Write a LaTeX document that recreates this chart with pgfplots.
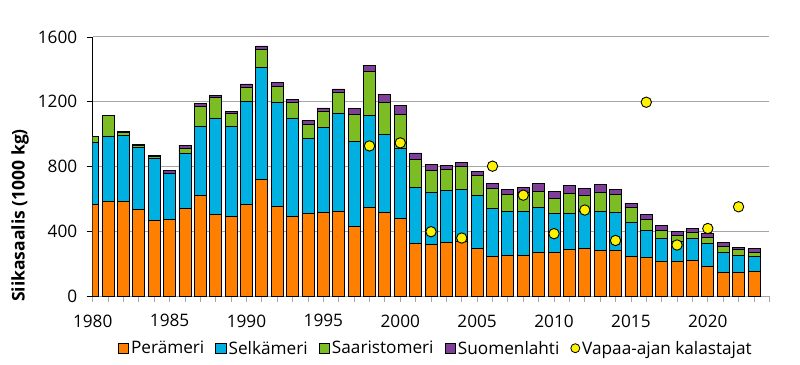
\documentclass[border=0pt]{standalone}
\usepackage{fontspec}
\setmainfont{Open Sans}
\usepackage{pgfplots}
\usepackage{pgfplotstable}
\pgfplotsset{compat=1.18}
\definecolor{cPer}{HTML}{FF8000}
\definecolor{cSel}{HTML}{00B0E0}
\definecolor{cSaa}{HTML}{7BBD23}
\definecolor{cSuo}{HTML}{7F3F98}
\definecolor{cGrid}{HTML}{A6A6A6}
\newcommand\fs{\fontsize{17.2pt}{20pt}\selectfont}
\newcommand\gap{\rule{5pt}{0pt}}
\pgfplotsset{
  lb/.style={legend image code/.code={\draw[##1,draw=black,line width=0.8pt] (0pt,-5.3pt) rectangle (10.5pt,5.3pt);}},
}
\pgfplotstableread{
year per sel saa suo
1980 565 385 35 3
1981 584 405 124 4
1982 586 407 15 6
1983 533 388 11 4
1984 465 388 11 6
1985 473 283 3 16
1986 539 345 29 17
1987 619 428 125 15
1988 502 598 128 12
1989 492 555 82 12
1990 568 633 86 23
1991 720 691 113 21
1992 551 648 97 22
1993 494 606 93 20
1994 509 463 87 24
1995 514 525 104 19
1996 520 611 124 24
1997 428 528 165 37
1998 549 566 273 39
1999 518 482 193 53
2000 477 436 206 57
2001 323 345 177 39
2002 319 323 131 37
2003 333 321 125 27
2004 339 317 144 27
2005 296 323 123 25
2006 243 296 125 29
2007 249 271 105 33
2008 249 275 118 28
2009 267 282 95 49
2010 267 241 93 47
2011 286 222 128 47
2012 294 226 99 45
2013 280 240 122 47
2014 282 234 109 33
2015 247 208 90 27
2016 237 168 70 29
2017 214 140 53 29
2018 212 127 33 27
2019 218 136 37 29
2020 181 146 37 25
2021 148 119 41 21
2022 144 107 35 16
2023 150 97 24 21
}\data
\pgfplotstableread{
year val
1998 927
2000 946
2002 397
2004 358
2006 802
2008 623
2010 385
2012 531
2014 343
2016 1197
2018 315
2020 417
2022 551
}\vapaa
\begin{document}
\begin{tikzpicture}
\useasboundingbox (-92.7pt,-68pt) rectangle (707.3pt,296pt);
\begin{axis}[
  at={(0pt,0pt)}, anchor=south west,
  scale only axis, width=676.6pt, height=259pt,
  xmin=1980, xmax=2024, ymin=0, ymax=1600,
  ybar stacked, bar width=12pt,
  axis lines*=left,
  axis line style={-},
  x axis line style={cGrid, line width=1pt},
  y axis line style={black, line width=0.8pt},
  xtick={1980,1985,...,2020},
  minor xtick={1980,1981,...,2024},
  ytick={0,400,...,1600},
  tick align=outside,
  major tick length=6pt, minor tick length=6pt,
  xtick style={cGrid, line width=0.8pt},
  minor x tick style={cGrid, line width=0.8pt},
  ytick style={black, line width=0.8pt},
  ymajorgrids, grid style={cGrid, line width=1pt},
  ticklabel style={font=\fs},
  /pgf/number format/assume math mode=true,
  /pgf/number format/1000 sep={},
  yticklabel style={xshift=-6pt},
  xticklabel style={yshift=-9pt},
  ylabel={\bfseries Siikasaalis (1000 kg)},
  ylabel style={at={(axis description cs:-0.1074,0.311)}, anchor=center, font=\fontsize{17.5pt}{20pt}\selectfont},
  legend columns=5,
  legend style={at={(axis description cs:0.507,-0.165)}, anchor=north, draw=none, fill=none, font=\fs, inner sep=0pt,
    /tikz/every even column/.append style={column sep=4pt}},
  legend cell align=left,
]
\addplot[lb, fill=cPer, draw=black, line width=0.8pt] table[x=year,y=per] {\data};
\addlegendentry{Perämeri\gap}
\addplot[lb, fill=cSel, draw=black, line width=0.8pt] table[x=year,y=sel] {\data};
\addlegendentry{Selkämeri\gap}
\addplot[lb, fill=cSaa, draw=black, line width=0.8pt] table[x=year,y=saa] {\data};
\addlegendentry{Saaristomeri\gap}
\addplot[lb, fill=cSuo, draw=black, line width=0.8pt] table[x=year,y=suo] {\data};
\addlegendentry{Suomenlahti\gap}
\addlegendimage{legend image code/.code={\draw[fill=yellow,draw=black,line width=0.8pt] (5.25pt,0pt) circle (4.5pt);}}
\addlegendentry{Vapaa-ajan kalastajat}
\end{axis}
\begin{axis}[
  at={(0pt,0pt)}, anchor=south west,
  scale only axis, width=676.6pt, height=259pt,
  xmin=1980, xmax=2024, ymin=0, ymax=1600,
  hide axis, clip=false,
]
\addplot[only marks, mark=*, mark size=5.2pt, mark options={fill=yellow, draw=black, line width=0.9pt}] table[x=year,y=val] {\vapaa};
\end{axis}
\end{tikzpicture}
\end{document}
